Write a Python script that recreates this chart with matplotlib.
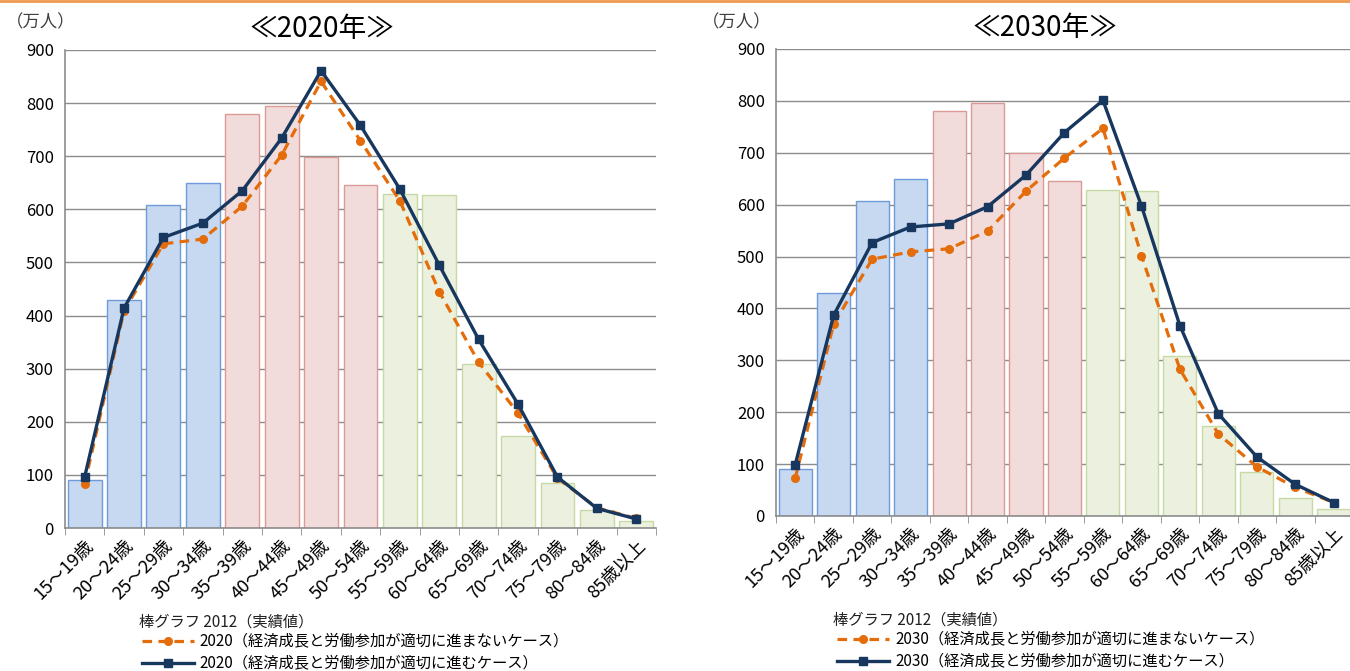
""" 年齢階級別 就業者数: 2012実績と2020/2030推計 """

import matplotlib
matplotlib.use("Agg")
import matplotlib.pyplot as plt
from matplotlib.lines import Line2D

plt.rcParams['font.family'] = ['Noto Sans CJK JP', 'DejaVu Sans']

# Categories (age groups)
categories = ["15～19歳", "20～24歳", "25～29歳", "30～34歳", "35～39歳",
              "40～44歳", "45～49歳", "50～54歳", "55～59歳", "60～64歳",
              "65～69歳", "70～74歳", "75～79歳", "80～84歳", "85歳以上"]

# Bar: 2012 actual (万人)
bars_2012 = [90, 429, 608, 650, 780, 795, 699, 646, 629, 627, 309, 173, 85, 34, 13]

# 2020 lines
low_2020 = [83, 409, 535, 544, 606, 702, 841, 729, 616, 445, 312, 216, 94, 38, 18]
high_2020 = [96, 414, 547, 574, 635, 734, 861, 758, 638, 495, 355, 233, 96, 37, 17]

# 2030 lines
low_2030 = [73, 370, 495, 509, 515, 549, 626, 690, 747, 502, 283, 158, 95, 55, 26]
high_2030 = [99, 387, 527, 557, 563, 596, 657, 739, 801, 598, 367, 197, 114, 61, 26]

# Age group colour band for each bar: 0=young, 1=middle, 2=older
groups = [0, 0, 0, 0, 1, 1, 1, 1, 2, 2, 2, 2, 2, 2, 2]

fills = ["#C6D9F1", "#F2DCDB", "#EBF1DE"]
edges = ["#6F9BD8", "#DA9A98", "#C7DAA4"]
ORANGE = "#E46C0A"
NAVY = "#17375E"
GRID = "#8C8C8C"

fig = plt.figure(figsize=(13.5, 6.71), dpi=100)

# Orange rule at the very top
fig.add_artist(Line2D([0, 1], [0.998, 0.998], color="#EE9A4D", lw=2,
                      transform=fig.transFigure))


def draw_panel(ax, year, low, high, title_x):
    x = list(range(len(categories)))
    ax.bar(x, bars_2012, width=0.86,
           color=[fills[g] for g in groups],
           edgecolor=[edges[g] for g in groups], linewidth=1, zorder=2)
    ax.plot(x, low, color=ORANGE, lw=2.3, ls=(0, (3, 2)), marker="o",
            markersize=5.5, zorder=3)
    ax.plot(x, high, color=NAVY, lw=2.4, marker="s", markersize=6, zorder=4)

    ax.set_xlim(-0.5, len(categories) - 0.5)
    ax.set_ylim(0, 900)
    ax.set_yticks(range(0, 901, 100))
    ax.yaxis.grid(True, color=GRID, lw=1)
    ax.set_axisbelow(True)

    for s in ["top", "right"]:
        ax.spines[s].set_visible(False)
    ax.spines["left"].set_color(GRID)
    ax.spines["bottom"].set_color(GRID)
    ax.spines["left"].set_linewidth(1.2)
    ax.spines["bottom"].set_linewidth(1.2)

    ax.set_xticks(x)
    ax.set_xticklabels(categories, rotation=45, ha="right",
                       rotation_mode="anchor", fontsize=13)
    ax.tick_params(axis="x", length=0, pad=6)
    ax.set_xticks([i - 0.5 for i in range(len(categories) + 1)], minor=True)
    ax.tick_params(axis="x", which="minor", length=5, color=GRID)
    ax.tick_params(axis="y", length=0, labelsize=12, pad=8)

    ax.set_title("≪" + year + "年≫", fontsize=20, x=title_x, pad=9)


# Left panel: 2020
ax1 = fig.add_axes([0.0481, 0.2131, 0.4378, 0.7124])
draw_panel(ax1, "2020", low_2020, high_2020, 0.435)

# Right panel: 2030
ax2 = fig.add_axes([0.5748, 0.2310, 0.4274, 0.6960])
draw_panel(ax2, "2030", low_2030, high_2030, 0.466)

# Unit labels
fig.text(0.004, 0.967, "（万人）", fontsize=12.5, va="center", color="#404040")
fig.text(0.520, 0.967, "（万人）", fontsize=12.5, va="center", color="#404040")


def draw_legend(x_text, x_handle, y_top, year):
    fig.text(x_text, y_top, "棒グラフ 2012（実績値）", fontsize=11,
             va="center", color="#202020")
    handles = [
        Line2D([], [], color=ORANGE, lw=2.3, ls=(0, (3, 2)), marker="o",
               markersize=5.5),
        Line2D([], [], color=NAVY, lw=2.4, marker="s", markersize=6),
    ]
    labels = [year + "（経済成長と労働参加が適切に進まないケース）",
              year + "（経済成長と労働参加が適切に進むケース）"]
    fig.legend(handles, labels, loc="upper left",
               bbox_to_anchor=(x_handle, y_top - 0.017), frameon=False,
               fontsize=11, handlelength=3.4, handletextpad=0.4,
               labelspacing=0.3, borderaxespad=0, borderpad=0)


draw_legend(0.103, 0.105, 0.073, "2020")
draw_legend(0.617, 0.620, 0.076, "2030")

fig.savefig("out.png", dpi=100)
